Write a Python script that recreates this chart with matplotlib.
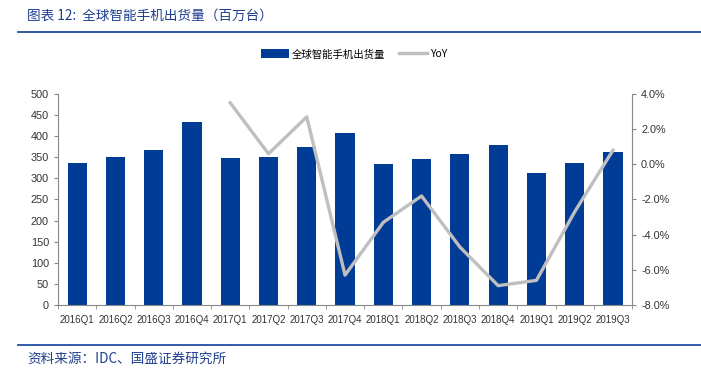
import matplotlib
matplotlib.use("Agg")
import matplotlib.pyplot as plt
from matplotlib.ticker import FuncFormatter, FixedLocator

plt.rcParams["font.family"] = ["Liberation Sans", "Noto Sans CJK SC"]

quarters = ["2016Q1", "2016Q2", "2016Q3", "2016Q4", "2017Q1", "2017Q2", "2017Q3",
            "2017Q4", "2018Q1", "2018Q2", "2018Q3", "2018Q4", "2019Q1", "2019Q2",
            "2019Q3"]
shipments = [336, 351, 367, 434, 348, 351, 374, 408, 334, 346, 358, 379, 313, 336, 363]
# YoY starts at 2017Q1
yoy_quarters = quarters[4:]
yoy = [3.5, 0.6, 2.7, -6.3, -3.3, -1.8, -4.7, -6.9, -6.6, -2.7, 0.8]

bar_color = "#003C96"
line_color = "#BFBFBF"
title_color = "#1F3F8F"
cjk = ["Noto Sans CJK SC", "DejaVu Sans"]

fig = plt.figure(figsize=(7.01, 3.74), dpi=100)
ax = fig.add_axes([0.0827, 0.1845, 0.819, 0.5642])
ax2 = ax.twinx()

x = list(range(len(quarters)))
bars = ax.bar(x, shipments, width=0.5, color=bar_color, label="全球智能手机出货量", zorder=2)
line, = ax2.plot([quarters.index(q) for q in yoy_quarters], yoy, color=line_color,
                 lw=2.4, label="YoY", zorder=3)

ax.set_xlim(-0.5, len(quarters) - 0.5)
ax.set_ylim(0, 500)
ax.set_yticks(range(0, 501, 50))
ax2.set_ylim(-8, 4)
ax2.set_yticks(range(-8, 5, 2))
ax2.yaxis.set_major_formatter(FuncFormatter(lambda v, p: f"{v:.1f}%"))

ax.set_xticks(x)
ax.set_xticklabels(quarters)
ax.xaxis.set_minor_locator(FixedLocator([i + 0.5 for i in range(-1, len(quarters))]))
ax.tick_params(axis="x", which="major", length=0, pad=7, labelsize=7, colors="#333333")
ax.tick_params(axis="x", which="minor", length=3, color="#888888", direction="out")
ax.tick_params(axis="y", length=3, color="#888888", labelsize=7.8, labelcolor="#333333")
ax2.tick_params(axis="y", length=3, color="#888888", labelsize=7.8, labelcolor="#333333")

for a in (ax, ax2):
    a.spines["top"].set_visible(False)
    for s in ("left", "right", "bottom"):
        a.spines[s].set_color("#888888")
        a.spines[s].set_linewidth(0.8)
ax.spines["right"].set_visible(False)
ax2.spines["left"].set_visible(False)
ax2.spines["bottom"].set_visible(False)
ax.set_zorder(ax2.get_zorder() - 1)
ax2.patch.set_visible(False)

leg = fig.legend([bars, line], ["全球智能手机出货量", "YoY"], loc="center",
                 bbox_to_anchor=(0.505, 0.855), ncol=2, frameon=False,
                 prop={"family": cjk, "size": 7.5}, handlelength=2.7,
                 handleheight=0.9, columnspacing=1.4, handletextpad=0.2)

fig.text(0.039, 0.958, "图表 12:  全球智能手机出货量（百万台）", family=cjk, fontsize=9.8,
         color=title_color, style="italic", va="center")
fig.add_artist(plt.Line2D([0.026, 1.0], [0.915, 0.915], color="#1F4E9F", lw=1.3))
fig.add_artist(plt.Line2D([0.026, 1.0], [0.078, 0.078], color="#1F4E9F", lw=1.3))
fig.text(0.039, 0.042, "资料来源：IDC、国盛证券研究所", family=cjk, fontsize=9.8,
         color=title_color, style="italic", va="center")

fig.savefig("out.png", dpi=100)
